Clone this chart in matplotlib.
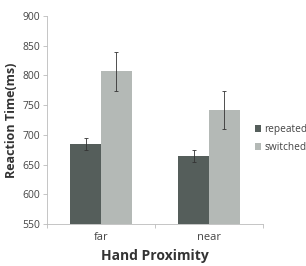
import matplotlib
matplotlib.use('Agg')
import matplotlib.pyplot as plt
import numpy as np

categories = ['far', 'near']
repeated = [685, 665]
repeated_err = [10, 10]
switched = [807, 742]
switched_err = [33, 32]

plt.rcParams['font.family'] = ['Open Sans', 'DejaVu Sans']

fig = plt.figure(figsize=(3.06, 2.66), dpi=100)
ax = fig.add_axes([0.154, 0.158, 0.705, 0.782])

x = np.arange(len(categories))
w = 0.285
ax.bar(x - w/2, repeated, w, color='#555e5b', yerr=repeated_err,
       error_kw=dict(ecolor='#333333', elinewidth=0.6, capsize=1.5, capthick=0.6),
       label='repeated', zorder=2)
ax.bar(x + w/2, switched, w, color='#b4b9b6', yerr=switched_err,
       error_kw=dict(ecolor='#333333', elinewidth=0.6, capsize=1.5, capthick=0.6),
       label='switched', zorder=2)

ax.set_ylim(550, 900)
ax.set_yticks(range(550, 901, 50))
ax.set_xlim(-0.5, 1.5)
ax.set_xticks([-0.5, 0.5, 1.5])
ax.set_xticklabels([])
ax.set_xticks(x, minor=True)
ax.set_xticklabels(categories, minor=True)
ax.tick_params(axis='x', which='minor', length=0, pad=6, labelsize=8, labelcolor='#444444')
ax.tick_params(axis='x', which='major', length=3, color='#bbbbbb', width=0.6)
ax.tick_params(axis='y', length=3, color='#bbbbbb', width=0.6, labelsize=7.5, labelcolor='#444444', pad=2)

for s in ['top', 'right']:
    ax.spines[s].set_visible(False)
for s in ['left', 'bottom']:
    ax.spines[s].set_color('#bbbbbb')
    ax.spines[s].set_linewidth(0.6)

ax.set_ylabel('Reaction Time(ms)', fontsize=9, fontweight='bold', color='#333333', labelpad=3)
ax.set_xlabel('Hand Proximity', fontsize=10, fontweight='bold', color='#333333', labelpad=4)

ax.legend(loc='center left', bbox_to_anchor=(0.962, 0.41), frameon=False, fontsize=7.3,
          handlelength=0.6, handleheight=0.6, handletextpad=0.35, labelspacing=0.7,
          borderpad=0, borderaxespad=0, labelcolor='#444444')

fig.savefig('out.png', dpi=100)
